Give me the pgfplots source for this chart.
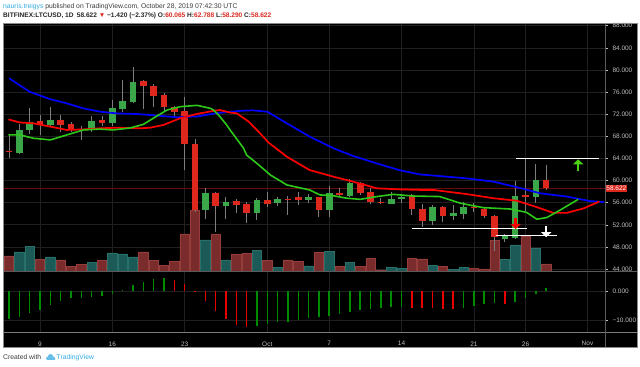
\documentclass[border=0pt]{standalone}
\usepackage{pgfplots}
\pgfplotsset{compat=1.18}
\usepackage{pgfplotstable}
\usepackage{fontspec}
\setmainfont{Liberation Sans}
\usetikzlibrary{arrows.meta}

\definecolor{cgreen}{RGB}{58,168,72}
\definecolor{cred}{RGB}{222,40,30}
\definecolor{vred}{RGB}{122,44,44}
\definecolor{vredb}{RGB}{150,60,58}
\definecolor{vteal}{RGB}{28,90,88}
\definecolor{vtealb}{RGB}{40,112,106}
\definecolor{wick}{RGB}{125,125,125}
\definecolor{gridc}{RGB}{32,32,32}
\definecolor{labc}{RGB}{190,190,190}
\definecolor{sepc}{RGB}{90,90,90}
\definecolor{aogreen}{RGB}{0,140,0}
\definecolor{aored}{RGB}{235,0,0}
\definecolor{mablue}{RGB}{0,0,255}
\definecolor{mared}{RGB}{255,0,0}
\definecolor{magreen}{RGB}{45,200,25}
\definecolor{tvblue}{RGB}{50,170,225}
\definecolor{hdr}{RGB}{60,60,60}
\definecolor{pline}{RGB}{105,12,12}

% red candles: day (Sep = day of month, Oct = 30 + day), open, high, low, close, volume
\pgfplotstableread{
d o h l c v
6 65.3 68.2 64.0 65.1 15.7
9 70.8 71.9 68.2 70.0 12.3
11 70.9 71.9 68.8 70.1 11.7
12 70.2 70.5 68.7 69.4 5.3
13 69.35 69.8 67.3 69.15 7.3
15 70.95 71.7 69.9 70.35 11
19 78.05 78.1 72.9 77.1 19.7
20 77.1 77.5 73.35 75.35 11
21 75.45 75.9 72.45 73.35 6
22 73.35 73.5 71.55 72.35 10.3
23 72.55 75.15 61.9 66.55 37.7
24 66.55 67.45 54.4 54.7 61
26 57.8 58.0 50.75 55.4 37
28 56.25 56.6 54.2 55.6 17
29 55.75 56.2 52.4 54.2 18.3
31 56.4 57.9 55.3 55.75 11
33 56.7 57.2 53.75 56.45 11.7
34 56.95 57.9 55.6 56.55 10.3
36 56.95 57.1 53.35 54.65 19
38 57.7 58.7 57.1 57.3 5
40 59.5 59.7 57.3 57.8 5.3
41 57.9 58.7 55.7 56.05 13
42 56.15 56.8 55.7 55.9 1.7
45 57.2 57.5 53.75 54.85 13
46 54.8 55.7 51.65 52.7 12.7
48 55.15 55.4 52.5 53.55 5.3
51 55.2 56.0 54.4 55.0 3.3
52 54.85 55.3 53.3 53.65 2.7
53 53.55 53.8 47.25 49.7 31.5
56 57.3 64.0 54.5 57.0 35
58 60.065 62.788 58.290 58.622 7.7
}\redc

\pgfplotstableread{
d o h l c v
7 64.9 70.3 64.8 69.1 19.7
8 69.1 73.1 68.5 70.6 25.3
10 70.05 73.3 69.7 70.95 14.7
14 69.3 71.7 68.7 70.8 9
16 70.35 74.6 69.8 73.05 18.7
17 72.95 78.2 72.4 74.45 17.7
18 74.25 80.6 74.0 77.9 14.7
25 54.7 58.6 53.0 57.7 31.7
27 55.45 56.95 53.0 56.05 11.7
30 54.1 56.8 52.9 56.4 21
32 55.9 57.0 55.4 56.7 4.3
35 56.55 57.6 56.0 57.0 5.7
37 54.65 59.0 53.35 57.7 20
39 57.25 60.3 57.0 59.6 9.3
43 55.75 57.9 55.7 56.7 4.3
44 56.65 57.6 56.0 57.05 3.3
47 52.7 55.6 51.9 55.2 6
49 53.5 55.5 52.85 54.1 2.3
50 53.95 56.2 53.05 55.25 4.3
54 49.5 50.4 48.9 50.0 12.3
55 49.6 59.95 49.4 57.25 26.7
57 57.1 63.0 55.9 60.1 23
}\greenc

% Alligator lines
\pgfplotstableread{
d y
6 78.5
8 76.05
10 74.7
11.6 73.95
13.2 73.05
14.8 72.45
16.4 72.15
18.7 72.0
19.65 71.85
22.2 71.45
24.3 71.6
26.1 72.2
28.4 72.6
29.5 72.7
31.0 72.45
32.9 70.35
35.1 67.95
37.4 65.85
39.3 64.45
41.6 63.1
43.85 61.85
45.8 61.1
47.1 60.9
50.3 60.4
52.9 59.8
55.15 58.8
57.4 57.7
60.0 57.1
62.2 56.3
63.6 56.1
}\jaw

\pgfplotstableread{
d y
5.95 71.05
7.05 70.5
8.35 70.35
10 69.75
11.6 69.15
13.2 69.25
14.8 69.45
16.4 69.55
18.7 69.45
19.65 69.55
20.95 70.05
22.55 71.25
24.2 72.05
25.8 72.6
26.4 72.75
27.4 72.3
28.05 72.15
29.2 70.65
30.3 68.55
31.1 66.9
32.9 64.3
35.1 61.9
37.4 60.7
39.3 59.8
41.6 58.6
43.85 58.4
45.8 58.3
47.1 58.3
50.3 57.55
52.9 56.8
55.15 56.35
57.0 55.25
58.7 54.15
60.0 54.15
61.6 54.95
63.15 56.2
}\teeth

\pgfplotstableread{
d y
5.95 68.25
7.05 68.25
8.35 67.65
10 67.35
11.6 68.25
13.2 69.15
14.8 69.3
16.1 69.15
17.7 69.5
19.0 70.15
20.3 71.65
21.3 72.75
22.55 73.35
24.2 73.6
25.5 73.05
25.8 72.75
26.4 71.6
27.05 70.1
27.4 69.15
28.7 65.85
29.0 64.6
30.0 63.1
31.0 61.5
31.3 61.0
32.9 59.2
35.1 58.3
36.1 57.4
37.4 57.25
38.7 56.8
40.0 56.6
41.6 57.1
43.2 57.5
45.1 57.2
47.7 57.1
49.7 55.9
51.9 55.1
54.5 54.85
56.1 54.25
57.1 53.0
58.05 53.3
59.35 54.65
61.1 56.6
}\lips

% Awesome oscillator
\pgfplotstableread{
d v
6 -9.65
7 -8.85
8 -7.7
9 -6.5
10 -4.8
11 -3.25
12 -2.45
13 -2.2
14 -1.85
15 -1.5
16 -0.8
17 0.45
18 2.1
19 3.25
20 4.3
21 4.65
30 -12.1
31 -11.5
32 -10.8
33 -10.6
34 -10.0
35 -9.2
36 -9.0
37 -8.7
38 -8.0
39 -7.3
40 -6.5
41 -6.15
42 -5.7
43 -5.35
44 -5.3
50 -5.7
51 -5.0
52 -4.4
53 -4.2
55 -3.6
56 -2.2
57 -0.95
58 1.15
}\aog

\pgfplotstableread{
d v
22 3.95
23 2.45
24 -0.25
25 -3.4
26 -6.85
27 -9.65
28 -11.85
29 -12.55
45 -5.7
46 -5.75
47 -5.95
48 -6.0
49 -6.15
54 -4.3
}\aor

\pgfplotsset{
  tvbase/.style={
    scale only axis, width=602bp,
    xmin=5.418, xmax=63.695,
    axis line style={draw=none},
    xtick={9,16,23,31,37,44,51,56,62},
    xtick style={draw=none},
    grid style={gridc, line width=0.6bp},
    tick label style={font=\fontsize{6.5}{7}\selectfont, text=labc},
  },
  pricepane/.style={
    tvbase, at={(3bp,-271.5bp)}, anchor=south west,
    height=248.5bp, ymin=43.55, ymax=88.49,
  },
}

\begin{document}
\begin{tikzpicture}
\useasboundingbox (0,0) rectangle (640bp,-367bp);
\fill[white] (0,0) rectangle (640bp,-367bp);
\fill[black] (3bp,-23bp) rectangle (637bp,-347bp);

% header
\node[anchor=west, inner sep=0, font=\fontsize{6.8}{8}\selectfont] at (3bp,-6.7bp)
  {\textcolor{tvblue}{nauris.treigys}\ \textcolor{hdr}{published on TradingView.com, October 28, 2019 07:42:30 UTC}};
\node[anchor=west, inner sep=0, font=\bfseries\fontsize{6.6}{8}\selectfont, text=black!85] at (3bp,-15.7bp)
  {BITFINEX:LTCUSD, 1D\enspace 58.622 \textcolor{cred}{▼} −1.420 (−2.37\%) O:\textcolor{cred}{60.065} H:\textcolor{cred}{62.788} L:\textcolor{cred}{58.290} C:\textcolor{cred}{58.622}};

% price pane: grid and labels
\begin{axis}[pricepane,
  ytick={44,48,...,88},
  yticklabels={44.000,48.000,52.000,56.000,60.000,64.000,68.000,72.000,76.000,80.000,84.000,88.000},
  yticklabel pos=right, ytick pos=right,
  ytick style={draw=labc, line width=0.5bp}, major tick length=2.5bp, tick align=outside,
  yticklabel style={xshift=1.5bp},
  xticklabels={}, xmajorgrids, ymajorgrids]
\addplot[draw=none] coordinates {(10,50)};
\end{axis}

% volume overlay
\begin{axis}[tvbase, at={(3bp,-271.5bp)}, anchor=south west, height=248.5bp,
  ymin=0, ymax=248.5, xtick=\empty, ytick=\empty]
\addplot[ybar, bar shift=0pt, bar width=0.9, fill=vred, draw=vredb, line width=0.5bp] table[x=d, y=v] {\redc};
\addplot[ybar, bar shift=0pt, bar width=0.9, fill=vteal, draw=vtealb, line width=0.5bp] table[x=d, y=v] {\greenc};
\end{axis}

% candles, alligator, drawings
\begin{axis}[pricepane, xtick=\empty, ytick=\empty, clip mode=individual]
\draw[pline, line width=0.7bp] (axis cs:5.418,58.622) -- (axis cs:63.695,58.622);
\addplot[draw=none, mark=none, error bars/.cd, y dir=plus, y explicit, error mark=none,
  error bar style={draw=wick, line width=0.9bp, solid}]
  table[x=d, y=l, y error expr=\thisrow{h}-\thisrow{l}] {\redc};
\addplot[draw=none, mark=none, error bars/.cd, y dir=plus, y explicit, error mark=none,
  error bar style={draw=wick, line width=0.9bp, solid}]
  table[x=d, y=l, y error expr=\thisrow{h}-\thisrow{l}] {\greenc};
\addplot[draw=none, mark=none, error bars/.cd, y dir=plus, y explicit, error mark=none,
  error bar style={draw=cred, line width=6.6bp, solid}]
  table[x=d, y=c, y error expr=\thisrow{o}-\thisrow{c}] {\redc};
\addplot[draw=none, mark=none, error bars/.cd, y dir=plus, y explicit, error mark=none,
  error bar style={draw=cgreen, line width=6.6bp, solid}]
  table[x=d, y=o, y error expr=\thisrow{c}-\thisrow{o}] {\greenc};
\addplot[mablue, line width=1.7bp, no marks] table {\jaw};
\addplot[mared, line width=1.7bp, no marks] table {\teeth};
\addplot[magreen, line width=1.6bp, no marks] table {\lips};
% drawings
\draw[white, line width=1.4bp] (axis cs:55.08,64.0) -- (axis cs:63.1,64.0);
\draw[white, line width=1.4bp] (axis cs:45.0,51.36) -- (axis cs:56.14,51.36);
\draw[white, line width=1.4bp] (axis cs:53.1,50.03) -- (axis cs:59.05,50.03);
\draw[magreen!80!lime, line width=2.6bp, -{Triangle[width=10bp,length=5bp]}] (axis cs:61.1,61.78) -- (axis cs:61.1,63.84);
\draw[mared, line width=2.6bp, -{Triangle[width=10bp,length=5bp]}] (axis cs:55.05,53.17) -- (axis cs:55.05,51.24);
\draw[white, line width=2.6bp, -{Triangle[width=10bp,length=5bp]}] (axis cs:58.0,51.79) -- (axis cs:58.0,49.75);
\node[fill=cred, text=white, anchor=west, inner sep=1.2bp, font=\fontsize{6.5}{7}\selectfont]
  at (axis cs:63.695,58.622) {58.622};
\end{axis}

% oscillator pane
\begin{axis}[tvbase, at={(3bp,-332bp)}, anchor=south west, height=60bp,
  ymin=-14.18, ymax=6.72, ytick={-10,0}, yticklabels={−10.000,0.000},
  yticklabel pos=right, ytick pos=right,
  ytick style={draw=labc, line width=0.5bp}, major tick length=2.5bp, tick align=outside,
  yticklabel style={xshift=1.5bp},
  xticklabels={9,16,23,Oct,7,14,21,26,Nov},
  xticklabel style={yshift=-3.5bp},
  xmajorgrids, ymajorgrids]
\addplot[ycomb, aogreen, line width=1.5bp, no marks] table {\aog};
\addplot[ycomb, aored, line width=1.5bp, no marks] table {\aor};
\end{axis}

% frame lines
\draw[sepc, line width=0.8bp] (3bp,-271.5bp) -- (637bp,-271.5bp);
\draw[sepc!80!white, line width=0.8bp] (3bp,-332bp) -- (637bp,-332bp);
\draw[sepc, line width=0.8bp] (605bp,-23bp) -- (605bp,-347bp);
\draw[sepc!70!white, line width=0.8bp] (3bp,-23bp) rectangle (637bp,-347bp);

% footer
\node[anchor=west, inner sep=0, font=\fontsize{6.8}{8}\selectfont, text=hdr] at (3bp,-357.5bp) {Created with};
\fill[tvblue!75] (46.5bp,-360bp) rectangle (55bp,-358bp);
\fill[tvblue!75] (47.5bp,-358.3bp) circle (1.8bp);
\fill[tvblue!75] (50.5bp,-356.6bp) circle (2.6bp);
\fill[tvblue!75] (53.6bp,-358.2bp) circle (1.8bp);
\node[anchor=west, inner sep=0, font=\fontsize{6.8}{8}\selectfont, text=tvblue] at (56.5bp,-357.5bp) {TradingView};
\end{tikzpicture}
\end{document}
